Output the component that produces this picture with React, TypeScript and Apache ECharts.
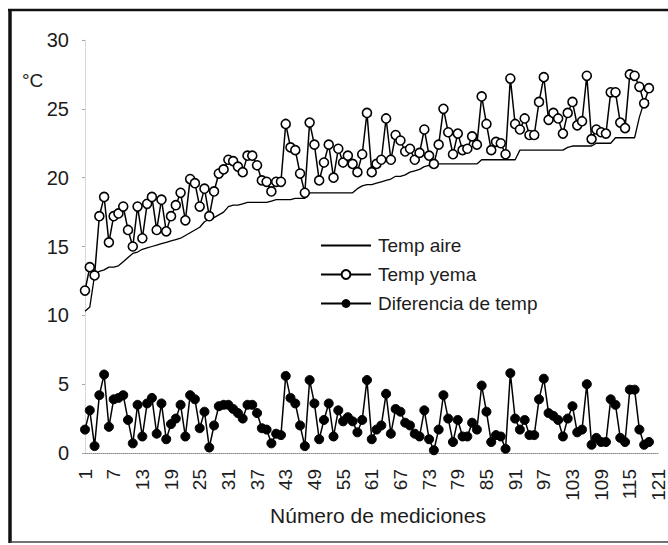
import React, { useEffect, useRef } from "react";
import * as echarts from "echarts";

const categories: string[] = Array.from({ length: 121 }, (_, i) => String(i + 1));

const tempAire = [
  10.3, 10.6, 12.9, 13.2, 13.3, 13.5, 13.5, 13.6, 13.9, 14.2,
  14.5, 14.6, 14.8, 14.9, 15.0, 15.1, 15.2, 15.3, 15.4, 15.5,
  15.6, 15.8, 16.0, 16.2, 16.4, 16.8, 17.0, 17.1, 17.3, 17.5,
  17.9, 18.0, 18.0, 18.1, 18.2, 18.2, 18.2, 18.2, 18.2, 18.3,
  18.4, 18.4, 18.4, 18.4, 18.5, 18.5, 18.5, 18.9, 18.9, 18.9,
  18.9, 18.9, 18.9, 18.9, 18.9, 18.9, 18.9, 19.2, 19.4, 19.5,
  19.5, 19.6, 19.7, 19.8, 19.9, 20.1, 20.1, 20.2, 20.4, 20.5,
  20.6, 20.8, 20.9, 21.0, 21.0, 21.0, 21.0, 21.0, 21.0, 21.0,
  21.0, 21.0, 21.0, 21.3, 21.3, 21.3, 21.3, 21.3, 21.3, 21.3,
  21.3, 22.0, 22.0, 22.0, 22.0, 22.0, 22.0, 22.0, 22.0, 22.0,
  22.0, 22.2, 22.3, 22.3, 22.3, 22.3, 22.3, 22.5, 22.5, 22.5,
  22.5, 22.9, 22.9, 22.9, 22.9, 22.9, 24.4, 25.5, 25.6,
];

const tempYema = [
  11.8, 13.5, 12.9, 17.2, 18.6, 15.3, 17.2, 17.4, 17.9, 16.2,
  15.0, 17.9, 15.6, 18.1, 18.6, 16.2, 18.4, 16.1, 17.2, 18.0,
  18.9, 16.9, 19.9, 19.6, 17.9, 19.2, 17.2, 19.0, 20.3, 20.6,
  21.3, 21.2, 20.8, 20.4, 21.6, 21.6, 20.9, 19.8, 19.7, 19.0,
  19.7, 19.7, 23.9, 22.2, 22.0, 20.3, 18.9, 24.0, 22.4, 19.8,
  21.1, 22.4, 20.0, 22.1, 21.1, 21.6, 21.0, 20.4, 21.7, 24.7,
  20.4, 21.0, 21.3, 24.3, 21.3, 23.1, 22.7, 21.9, 22.1, 21.3,
  21.8, 23.5, 21.6, 21.0, 22.4, 25.0, 23.3, 21.7, 23.2, 22.0,
  22.1, 23.0, 22.4, 25.9, 23.9, 22.0, 22.6, 22.5, 21.7, 27.2,
  23.9, 23.5, 24.3, 23.1, 23.1, 25.5, 27.3, 24.2, 24.7, 24.3,
  23.2, 24.7, 25.5, 23.8, 24.1, 27.4, 22.8, 23.5, 23.3, 23.2,
  26.2, 26.2, 24.0, 23.6, 27.5, 27.4, 26.6, 25.4, 26.5,
];

const diferencia = [
  1.7, 3.1, 0.5, 4.2, 5.7, 1.9, 3.9, 4.0, 4.2, 2.4,
  0.7, 3.5, 1.2, 3.6, 4.0, 1.4, 3.6, 1.0, 2.1, 2.5,
  3.5, 1.2, 4.2, 3.9, 1.8, 3.0, 0.4, 2.0, 3.4, 3.5,
  3.5, 3.2, 2.9, 2.5, 3.5, 3.5, 2.9, 1.8, 1.7, 0.7,
  1.4, 1.3, 5.6, 4.0, 3.6, 2.0, 0.5, 5.3, 3.6, 1.0,
  2.4, 3.6, 1.2, 3.1, 2.3, 2.6, 2.3, 1.5, 2.4, 5.3,
  1.0, 1.7, 2.0, 4.3, 1.4, 3.2, 3.0, 2.2, 2.0, 1.4,
  1.2, 3.1, 1.0, 0.2, 1.7, 4.2, 2.5, 0.8, 2.4, 1.2,
  1.2, 2.2, 1.7, 4.9, 3.0, 0.8, 1.3, 1.2, 0.3, 5.8,
  2.5, 1.7, 2.4, 1.3, 1.3, 3.9, 5.4, 2.9, 2.7, 2.4,
  1.2, 2.5, 3.4, 1.5, 1.7, 5.0, 0.6, 1.1, 0.8, 0.8,
  3.9, 3.5, 1.1, 0.8, 4.6, 4.6, 1.7, 0.6, 0.8,
];

const seriesNames = ["Temp aire", "Temp yema", "Diferencia de temp"];
const yUnit = "°C";
const xTitle = "Número de mediciones";

const FONT = "'Liberation Sans', Arial, Helvetica, sans-serif";
const INK = "#1c1c1c";

export default function App() {
  const ref = useRef<HTMLDivElement>(null);

  useEffect(() => {
    document.body.style.margin = "0";
    const chart = echarts.init(ref.current!, null, { renderer: "svg" });
    chart.setOption({
      animation: false,
      backgroundColor: "#ffffff",
      textStyle: { fontFamily: FONT },
      grid: { left: 85, right: 9, top: 40, bottom: 92, containLabel: false },
      xAxis: {
        type: "category",
        data: categories,
        boundaryGap: false,
        axisLine: { lineStyle: { color: "#8a8a8a", type: "dotted", width: 1 } },
        axisTick: { show: false },
        axisLabel: {
          interval: 5,
          rotate: 90,
          fontSize: 19,
          color: INK,
          margin: 16,
          fontFamily: FONT,
        },
        splitLine: { show: false },
      },
      yAxis: {
        type: "value",
        min: 0,
        max: 30,
        interval: 5,
        axisLine: { show: true, lineStyle: { color: "#cfcfcf", type: "dotted", width: 1 } },
        axisTick: { show: true, length: 3, lineStyle: { color: "#aaaaaa" } },
        axisLabel: { fontSize: 20, color: INK, margin: 16, fontFamily: FONT },
        splitLine: { show: false },
      },
      legend: {
        orient: "vertical",
        left: 315,
        top: 231,
        itemWidth: 50,
        itemHeight: 11,
        itemGap: 10,
        data: [
          { name: seriesNames[0], itemStyle: { opacity: 0 } },
          { name: seriesNames[1] },
          { name: seriesNames[2] },
        ],
        textStyle: { fontSize: 19, color: INK, fontFamily: FONT, padding: [0, 0, 0, 2] },
      },
      series: [
        {
          name: seriesNames[0],
          type: "line",
          data: tempAire,
          symbol: "none",
          lineStyle: { color: "#000", width: 1.3 },
          itemStyle: { color: "#000" },
          z: 2,
        },
        {
          name: seriesNames[1],
          type: "line",
          data: tempYema,
          symbol: "circle",
          symbolSize: 9,
          showAllSymbol: true,
          lineStyle: { color: "#000", width: 1.5 },
          itemStyle: { color: "#ffffff", borderColor: "#000", borderWidth: 1.6 },
          z: 3,
        },
        {
          name: seriesNames[2],
          type: "line",
          data: diferencia,
          symbol: "circle",
          symbolSize: 9,
          showAllSymbol: true,
          lineStyle: { color: "#000", width: 1.5 },
          itemStyle: { color: "#000", borderColor: "#000" },
          z: 3,
        },
      ],
      graphic: [
        {
          type: "line",
          shape: { x1: 8, y1: 10, x2: 668, y2: 10 },
          style: { stroke: "#111", lineWidth: 2.5 },
        },
        {
          type: "line",
          shape: { x1: 10, y1: 9, x2: 10, y2: 543 },
          style: { stroke: "#111", lineWidth: 3.5 },
        },
        {
          type: "line",
          shape: { x1: 10, y1: 542, x2: 668, y2: 542 },
          style: { stroke: "#444", lineWidth: 1.5 },
        },
        {
          type: "text",
          x: 22,
          y: 80,
          style: {
            text: yUnit,
            fontSize: 19,
            fontFamily: FONT,
            fill: INK,
            align: "left",
            verticalAlign: "middle",
            textAlign: "left",
            textVerticalAlign: "middle",
          },
        },
        {
          type: "text",
          x: 378,
          y: 515,
          style: {
            text: xTitle,
            fontSize: 21,
            fontFamily: FONT,
            fill: INK,
            align: "center",
            verticalAlign: "middle",
            textAlign: "center",
            textVerticalAlign: "middle",
          },
        },
      ],
    });
    return () => chart.dispose();
  }, []);

  return <div ref={ref} style={{ width: 668, height: 545 }} />;
}
